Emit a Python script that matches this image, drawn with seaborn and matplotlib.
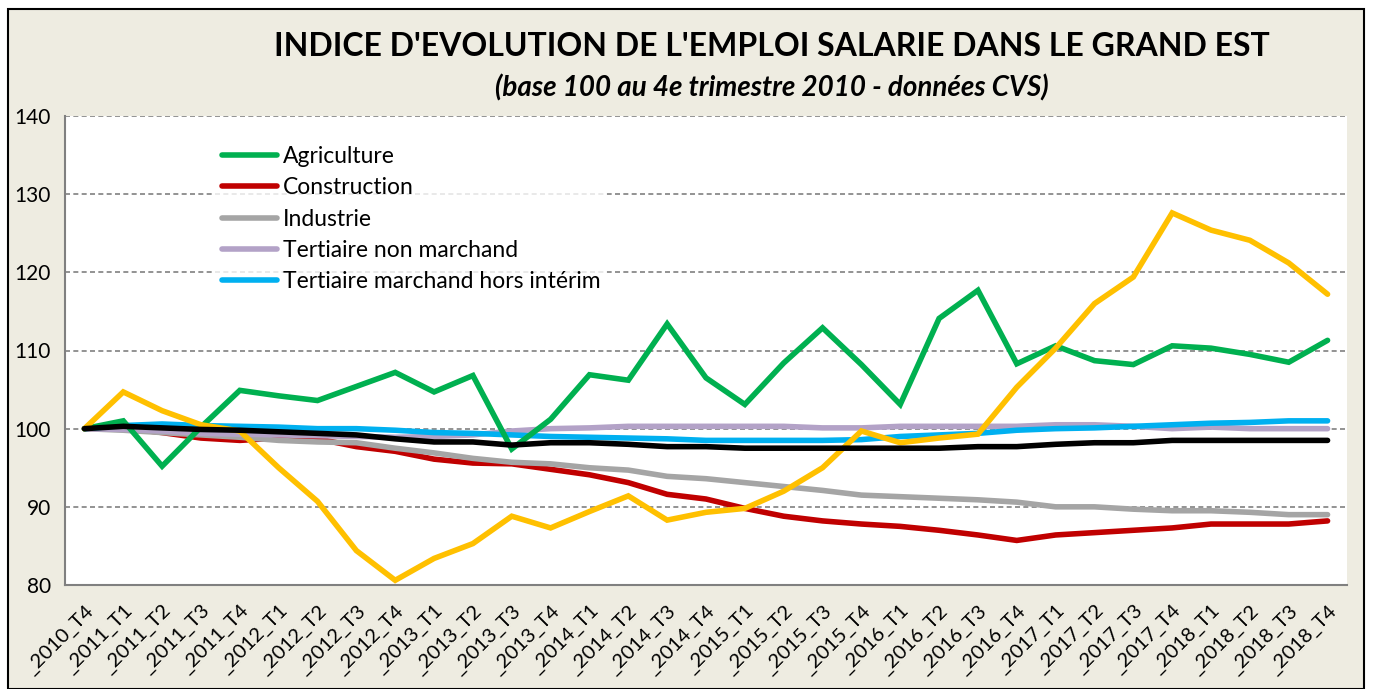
import numpy as np
import pandas as pd
import seaborn as sns
import matplotlib.pyplot as plt
from matplotlib.patches import Rectangle

periods = ["_2010_T4",
           "_2011_T1", "_2011_T2", "_2011_T3", "_2011_T4",
           "_2012_T1", "_2012_T2", "_2012_T3", "_2012_T4",
           "_2013_T1", "_2013_T2", "_2013_T3", "_2013_T4",
           "_2014_T1", "_2014_T2", "_2014_T3", "_2014_T4",
           "_2015_T1", "_2015_T2", "_2015_T3", "_2015_T4",
           "_2016_T1", "_2016_T2", "_2016_T3", "_2016_T4",
           "_2017_T1", "_2017_T2", "_2017_T3", "_2017_T4",
           "_2018_T1", "_2018_T2", "_2018_T3", "_2018_T4"]

agriculture = [100, 101.0, 95.2, 100.2, 104.9, 104.2, 103.6, 105.4, 107.2, 104.7,
               106.8, 97.4, 101.2, 106.9, 106.2, 113.4, 106.5, 103.1, 108.4, 112.9,
               108.2, 103.1, 114.1, 117.7, 108.3, 110.6, 108.7, 108.2, 110.6, 110.3,
               109.5, 108.5, 111.3]
construction = [100, 100.1, 99.5, 98.8, 98.5, 98.8, 98.7, 97.7, 97.1, 96.1,
                95.6, 95.5, 94.8, 94.1, 93.1, 91.6, 91.0, 89.8, 88.8, 88.2,
                87.8, 87.5, 87.0, 86.4, 85.7, 86.4, 86.7, 87.0, 87.3, 87.8,
                87.8, 87.8, 88.2]
industrie = [100, 99.8, 99.5, 99.2, 98.9, 98.5, 98.3, 98.2, 97.5, 96.9,
             96.2, 95.7, 95.5, 95.0, 94.7, 93.9, 93.6, 93.1, 92.6, 92.1,
             91.5, 91.3, 91.1, 90.9, 90.6, 90.0, 90.0, 89.7, 89.5, 89.5,
             89.3, 89.0, 89.0]
tert_non_marchand = [100, 99.9, 99.7, 99.4, 99.3, 99.2, 99.1, 99.0, 98.9, 99.0,
                     99.2, 99.7, 100.0, 100.1, 100.3, 100.3, 100.3, 100.3, 100.3, 100.1,
                     100.1, 100.3, 100.3, 100.3, 100.3, 100.5, 100.5, 100.3, 100.0, 100.2,
                     100.0, 100.0, 100.0]
tert_marchand = [100, 100.4, 100.6, 100.4, 100.3, 100.2, 100.0, 100.0, 99.8, 99.5,
                 99.4, 99.2, 99.0, 98.9, 98.8, 98.7, 98.5, 98.5, 98.5, 98.5,
                 98.6, 99.0, 99.2, 99.4, 99.8, 100.0, 100.1, 100.3, 100.5, 100.7,
                 100.8, 101.0, 101.0]
interim = [100, 104.7, 102.3, 100.5, 99.7, 95.0, 90.7, 84.4, 80.6, 83.4,
           85.3, 88.8, 87.3, 89.4, 91.4, 88.3, 89.3, 89.8, 92.0, 95.0,
           99.7, 98.2, 98.8, 99.3, 105.3, 110.3, 116.0, 119.4, 127.6, 125.4,
           124.1, 121.2, 117.2]
total = [100, 100.3, 100.1, 99.9, 99.8, 99.6, 99.4, 99.2, 98.7, 98.3,
         98.3, 97.9, 98.2, 98.2, 98.0, 97.7, 97.7, 97.5, 97.5, 97.5,
         97.5, 97.5, 97.5, 97.7, 97.7, 98.0, 98.2, 98.2, 98.5, 98.5,
         98.5, 98.5, 98.5]

# drawing order, label, colour, shown in legend
series = [
    ("Construction", construction, "#C00000", True),
    ("Industrie", industrie, "#A5A5A5", True),
    ("Tertiaire non marchand", tert_non_marchand, "#B3A2C7", True),
    ("Tertiaire marchand hors intérim", tert_marchand, "#00B0F0", True),
    ("Agriculture", agriculture, "#00B050", True),
    ("Intérim", interim, "#FFC000", False),
    ("Total", total, "#000000", False),
]
legend_order = ["Agriculture", "Construction", "Industrie",
                "Tertiaire non marchand", "Tertiaire marchand hors intérim"]

sns.set_style("white")
plt.rcParams['font.family'] = ['Lato', 'DejaVu Sans']
plt.rcParams['text.color'] = 'black'
plt.rcParams['xtick.color'] = 'black'
plt.rcParams['ytick.color'] = 'black'

fig = plt.figure(figsize=(13.78, 6.89), dpi=100)
fig.patch.set_facecolor("white")
fig.patches.append(Rectangle((8 / 1378, 0), 1356 / 1378, 680 / 689,
                             transform=fig.transFigure, facecolor="#EEECE1",
                             edgecolor="black", linewidth=1.5, zorder=-10))

ax = fig.add_axes([65 / 1378, 1 - 585 / 689, 1282 / 1378, 469 / 689])
ax.set_facecolor("white")

x = np.arange(len(periods))
handles = {}
for name, vals, color, in_legend in series:
    df = pd.DataFrame({"x": x, "v": vals})
    sns.lineplot(data=df, x="x", y="v", ax=ax, color=color, linewidth=4,
                 solid_capstyle="round", solid_joinstyle="miter")
    handles[name] = ax.lines[-1]

ax.set_xlim(-0.5, len(periods) - 0.5)
ax.set_ylim(80, 140)
ax.set_yticks(range(80, 141, 10))
ax.set_yticklabels([str(v) for v in range(80, 141, 10)], fontsize=15)
ax.yaxis.grid(True, linestyle=(0, (3, 2)), color="#808080", linewidth=1.2)
ax.set_axisbelow(True)

ax.set_xticks(x)
ax.set_xticklabels(periods, rotation=45, ha="right", rotation_mode="anchor",
                   fontsize=14.5)
ax.set_xticks(np.arange(-0.5, len(periods)), minor=True)
ax.tick_params(axis="x", which="major", length=0, pad=12)
ax.tick_params(axis="x", which="minor", length=6, color="#808080", width=1.2,
               direction="out")
ax.tick_params(axis="y", length=6, color="#808080", width=1.2, direction="out",
               pad=4)
ax.set_xlabel("")
ax.set_ylabel("")

for side in ["top", "right"]:
    ax.spines[side].set_visible(False)
for side in ["left", "bottom"]:
    ax.spines[side].set_color("#808080")
    ax.spines[side].set_linewidth(1.5)

leg = ax.legend([handles[n] for n in legend_order], legend_order,
                loc="upper left", bbox_to_anchor=(0.108, 0.975), fontsize=16.5,
                frameon=True, framealpha=0.8, edgecolor="none",
                handlelength=2.4, handletextpad=0.25, labelspacing=0.45,
                borderpad=0.3)
for line in leg.get_lines():
    line.set_linewidth(4)

fig.text(0.56, 0.932, "INDICE D'EVOLUTION DE L'EMPLOI SALARIE DANS LE GRAND EST",
         ha="center", va="center", fontsize=23, fontweight="bold", color="black")
fig.text(0.56, 0.873, "(base 100 au 4e trimestre 2010 - données CVS)",
         ha="center", va="center", fontsize=20, fontweight="bold",
         fontstyle="italic", color="black")

fig.savefig("out.png", dpi=100, facecolor=fig.get_facecolor())
